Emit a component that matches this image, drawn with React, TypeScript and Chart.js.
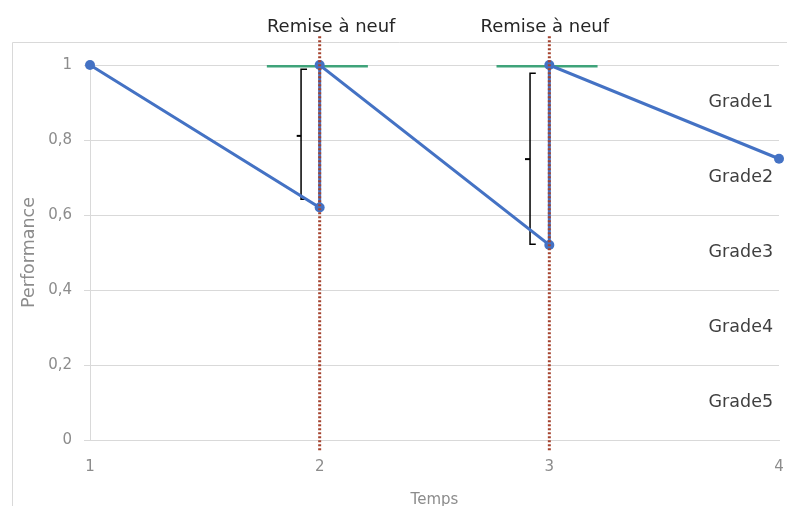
import React, { useEffect, useRef } from 'react';
import { Chart, registerables } from 'chart.js';

Chart.register(...registerables);

// ---- Data ----
const times = [1, 2, 2, 3, 3, 4];
const performance = [1, 0.62, 1, 0.52, 1, 0.75];

const renovationTimes = [2, 3];
const renovationTop = 1.077;
const renovationBottom = -0.027;
const renovationLabel = 'Remise à neuf';
const renovationLabelX = [2.05, 2.98];
const renovationLabelY = 1.101;

const greenLevel = 0.997;
const greenSegment1 = [1.77, 2.21];
const greenSegment2 = [2.77, 3.21];

const bracket1X = [1.945, 1.919, 1.919, 1.945];
const bracket1Y = [0.989, 0.989, 0.642, 0.642];
const bracket1MidX = [1.9, 1.919];
const bracket1MidY = 0.811;

const bracket2X = [2.941, 2.916, 2.916, 2.941];
const bracket2Y = [0.978, 0.978, 0.522, 0.522];
const bracket2MidX = [2.894, 2.916];
const bracket2MidY = 0.749;

const gradeLabels = ['Grade1', 'Grade2', 'Grade3', 'Grade4', 'Grade5'];
const gradeLevels = [0.9, 0.7, 0.5, 0.3, 0.1];
const gradeLabelX = 3.974;

const xTickLabels = ['1', '2', '3', '4'];
const xTickValues = [1, 2, 3, 4];
const yTickLabels = ['0', '0,2', '0,4', '0,6', '0,8', '1'];
const yTickValues = [0, 0.2, 0.4, 0.6, 0.8, 1];

const FONT = '"DejaVu Sans", sans-serif';

const pts = (xs: number[], ys: number[]) => xs.map((x, i) => ({ x, y: ys[i] }));

export default function App() {
  const ref = useRef<HTMLCanvasElement | null>(null);

  useEffect(() => {
    if (!ref.current) return;

    const decoPlugin = {
      id: 'deco',
      beforeDraw(chart: any) {
        const { ctx } = chart;
        ctx.save();
        ctx.fillStyle = '#ffffff';
        ctx.fillRect(0, 0, chart.width, chart.height);
        ctx.strokeStyle = '#d9d9d9';
        ctx.lineWidth = 1;
        ctx.beginPath();
        ctx.moveTo(12.5, chart.height);
        ctx.lineTo(12.5, 42.5);
        ctx.lineTo(chart.width, 42.5);
        ctx.stroke();
        ctx.restore();
      },
      afterDraw(chart: any) {
        const { ctx } = chart;
        const xs = chart.scales.x;
        const ys = chart.scales.y;
        ctx.save();
        ctx.fillStyle = '#262626';
        ctx.font = '18px ' + FONT;
        ctx.textAlign = 'center';
        ctx.textBaseline = 'middle';
        renovationLabelX.forEach((v) => {
          ctx.fillText(renovationLabel, xs.getPixelForValue(v), ys.getPixelForValue(renovationLabelY));
        });
        ctx.fillStyle = '#404040';
        ctx.font = '17.5px ' + FONT;
        ctx.textAlign = 'right';
        gradeLabels.forEach((g, i) => {
          ctx.fillText(g, xs.getPixelForValue(gradeLabelX), ys.getPixelForValue(gradeLevels[i]));
        });
        ctx.restore();
      },
    };

    const thin = { showLine: true, pointRadius: 0, pointHoverRadius: 0, fill: false };

    const chart = new Chart(ref.current, {
      type: 'scatter',
      data: {
        datasets: [
          ...renovationTimes.map((t) => ({
            ...thin,
            data: [
              { x: t, y: renovationTop },
              { x: t, y: renovationBottom },
            ],
            borderColor: '#a5432f',
            borderWidth: 3,
            borderDash: [2, 2],
            clip: false as any,
            order: 0,
          })),
          {
            showLine: true,
            data: pts(times, performance),
            borderColor: '#4472c4',
            backgroundColor: '#4472c4',
            borderWidth: 3,
            pointRadius: 5,
            pointBorderWidth: 0,
            clip: false as any,
            order: 1,
          },
          {
            ...thin,
            data: pts(greenSegment1, [greenLevel, greenLevel]),
            borderColor: '#3fa37a',
            borderWidth: 2.5,
            order: 2,
          },
          {
            ...thin,
            data: pts(greenSegment2, [greenLevel, greenLevel]),
            borderColor: '#3fa37a',
            borderWidth: 2.5,
            order: 2,
          },
          {
            ...thin,
            data: pts(bracket1X, bracket1Y),
            borderColor: '#000000',
            borderWidth: 1.5,
            order: 2,
          },
          {
            ...thin,
            data: pts(bracket1MidX, [bracket1MidY, bracket1MidY]),
            borderColor: '#000000',
            borderWidth: 2,
            order: 2,
          },
          {
            ...thin,
            data: pts(bracket2X, bracket2Y),
            borderColor: '#000000',
            borderWidth: 1.5,
            order: 2,
          },
          {
            ...thin,
            data: pts(bracket2MidX, [bracket2MidY, bracket2MidY]),
            borderColor: '#000000',
            borderWidth: 2,
            order: 2,
          },
        ] as any,
      },
      options: {
        responsive: false,
        animation: false,
        maintainAspectRatio: false,
        layout: { padding: { top: 65, right: 8, bottom: 0, left: 0 } },
        plugins: {
          legend: { display: false },
          tooltip: { enabled: false },
        },
        scales: {
          x: {
            type: 'linear',
            min: 1,
            max: 4,
            afterFit: (s: any) => {
              s.height = 66;
              s.paddingLeft = 0;
              s.paddingRight = 0;
            },
            afterBuildTicks: (s: any) => {
              s.ticks = xTickValues.map((v) => ({ value: v }));
            },
            grid: { display: false, drawTicks: false },
            border: { display: true, color: '#d9d9d9', width: 1 },
            ticks: {
              padding: 18,
              color: '#8c8c8c',
              font: { family: FONT, size: 15 },
              callback: (v: any) => {
                const i = xTickValues.indexOf(Number(v));
                return i >= 0 ? xTickLabels[i] : '';
              },
            },
            title: {
              display: true,
              text: 'Temps',
              color: '#8c8c8c',
              font: { family: FONT, size: 15 },
              padding: { top: 0, bottom: -3 },
            },
          },
          y: {
            type: 'linear',
            min: 0,
            max: 1,
            afterFit: (s: any) => {
              s.width = 90;
            },
            afterBuildTicks: (s: any) => {
              s.ticks = yTickValues.map((v) => ({ value: v }));
            },
            grid: { color: '#d9d9d9', lineWidth: 1, tickLength: 6, drawTicks: true },
            border: { display: true, color: '#d9d9d9', width: 1 },
            ticks: {
              padding: 12,
              color: '#8c8c8c',
              font: { family: FONT, size: 15 },
              callback: (v: any) => {
                const i = yTickValues.findIndex((t) => Math.abs(t - Number(v)) < 1e-9);
                return i >= 0 ? yTickLabels[i] : '';
              },
            },
            title: {
              display: true,
              text: 'Performance',
              color: '#8c8c8c',
              font: { family: FONT, size: 17.5 },
              padding: { top: 19, bottom: 0 },
            },
          },
        },
      } as any,
      plugins: [decoPlugin],
    });

    return () => chart.destroy();
  }, []);

  return (
    <div style={{ position: 'absolute', left: 0, top: 0, width: 787, height: 506, background: '#fff' }}>
      <canvas ref={ref} width={787} height={506} style={{ display: 'block', width: 787, height: 506 }} />
    </div>
  );
}
